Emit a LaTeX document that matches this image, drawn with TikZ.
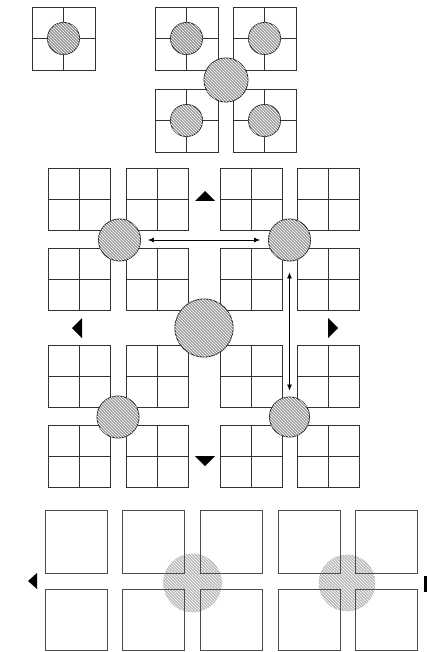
\documentclass[tikz,border=0pt]{standalone}
\usepackage{tikz}
\usetikzlibrary{arrows.meta,patterns}
\tikzset{
  celda/.style={draw=black!80, line width=0.9pt},
  disco/.style={circle, draw=black!85, line width=0.9pt, fill=gray!75, inner sep=0pt,
                postaction={pattern=north west lines, pattern color=white}},
  discoclaro/.style={circle, draw=gray!60, line width=0.4pt, fill=gray!55, inner sep=0pt,
                     postaction={pattern=north west lines, pattern color=white}},
  marca/.style={fill=black},
  flecha/.style={{Latex[length=6pt,width=5pt]}-{Latex[length=6pt,width=5pt]}, line width=0.7pt}
}
\newcommand{\cuadro}[3]{%
  \draw[celda] (#1,#2) rectangle ++(#3,#3);
  \draw[celda] (#1+#3/2,#2) -- ++(0,#3);
  \draw[celda] (#1,#2+#3/2) -- ++(#3,0);
}

\begin{document}
\begin{tikzpicture}[x=1pt, y=-1pt]
  \useasboundingbox (0,0) rectangle (436,652);

  % arriba
  \cuadro{32}{7}{63}
  \foreach \x in {155,233} \foreach \y in {7,89} {\cuadro{\x}{\y}{63}}
  \node[disco, minimum size=32, fill=gray!85] (d0) at (63.5,38.5) {};
  \node[disco, minimum size=32, fill=gray!85] (d1) at (186.5,38.5) {};
  \node[disco, minimum size=32] (d2) at (264.5,38.5) {};
  \node[disco, minimum size=32] (d3) at (186.5,120.5) {};
  \node[disco, minimum size=32] (d4) at (264.5,120.5) {};
  \node[disco, minimum size=44] (dc) at (226,80) {};

  % centro
  \foreach \x in {48,126,220,297} \foreach \y in {168,248,345,425} {\cuadro{\x}{\y}{62}}
  \node[disco, minimum size=42] (ul) at (119.5,240) {};
  \node[disco, minimum size=42] (ur) at (289.5,240) {};
  \node[disco, minimum size=42] (ll) at (118,417) {};
  \node[disco, minimum size=40] (lr) at (289.5,417) {};
  \node[disco, minimum size=58] (cc) at (204,328) {};

  \draw[flecha, shorten <=7pt, shorten >=8pt] (ul) -- (ur);
  \draw[flecha, shorten <=11pt, shorten >=6pt] (ur) -- (lr);

  \coordinate (mU) at (205,196);
  \coordinate (mL) at (77,328);
  \coordinate (mR) at (333,328);
  \coordinate (mD) at (205,461);
  \fill[marca] (mU) ++(0,-5) -- ++(10,10) -- ++(-20,0) -- cycle;
  \fill[marca] (mD) ++(0,5) -- ++(10,-10) -- ++(-20,0) -- cycle;
  \fill[marca] (mL) ++(-5,0) -- ++(10,-10) -- ++(0,20) -- cycle;
  \fill[marca] (mR) ++(5,0) -- ++(-10,-10) -- ++(0,20) -- cycle;

  % abajo
  \node[discoclaro, minimum size=58] (b1) at (192.5,583) {};
  \node[discoclaro, minimum size=56] (b2) at (347,583) {};
  \foreach \x in {45,122,200,278,355} {
    \draw[celda, draw=black!70] (\x,510) rectangle ++(62,63);
    \draw[celda, draw=black!70] (\x,589) rectangle ++(62,61);
  }
  \coordinate (mB) at (32,581);
  \fill[marca] (mB) ++(-4,0) -- ++(9,-8) -- ++(0,16) -- cycle;
  \fill[marca] (424,576) rectangle (427,592);
\end{tikzpicture}
\end{document}
